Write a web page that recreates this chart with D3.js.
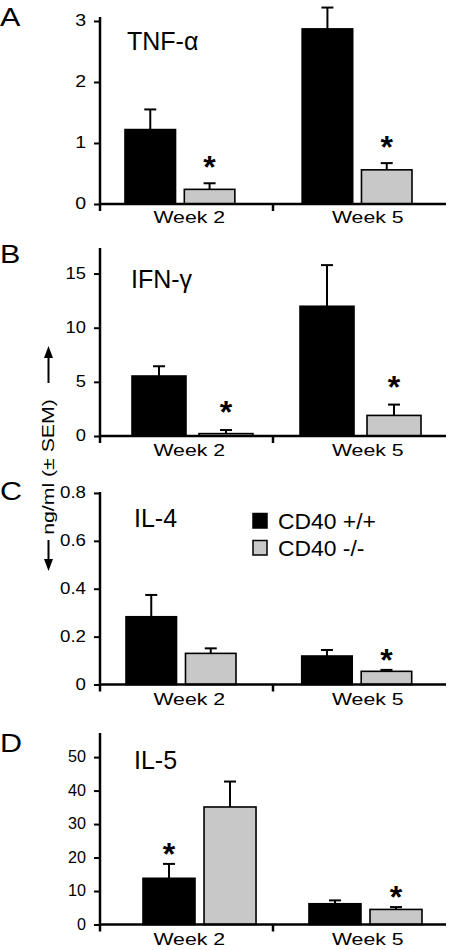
<!DOCTYPE html>
<html>
<head>
<meta charset="utf-8">
<script src="https://cdn.jsdelivr.net/npm/d3@7"></script>
<style>
  html, body { margin: 0; padding: 0; background: #fff; }
  svg { display: block; }
  text { font-family: "Liberation Sans", Arial, Helvetica, sans-serif; fill: #000; }
</style>
</head>
<body>
<svg id="chart" width="450" height="950"></svg>
<script>
// ---------- data ----------
const weeks = ["Week 2", "Week 5"];
const seriesNames = ["CD40 +/+", "CD40 -/-"];

const tnfWT = [1.22, 2.87];
const tnfWTsem = [0.33, 0.35];
const tnfKO = [0.24, 0.56];
const tnfKOsem = [0.10, 0.11];
const tnfTicks = [0, 1, 2, 3];
const tnfStars = ["Week 2|CD40 -/-", "Week 5|CD40 -/-"];

const ifnWT = [5.54, 11.98];
const ifnWTsem = [0.9, 3.8];
const ifnKO = [0.22, 1.9];
const ifnKOsem = [0.33, 1.0];
const ifnTicks = [0, 5, 10, 15];
const ifnStars = ["Week 2|CD40 -/-", "Week 5|CD40 -/-"];

const il4WT = [0.283, 0.119];
const il4WTsem = [0.091, 0.025];
const il4KO = [0.130, 0.055];
const il4KOsem = [0.021, 0.006];
const il4Ticks = [0, 0.2, 0.4, 0.6, 0.8];
const il4Stars = ["Week 5|CD40 -/-"];

const il5WT = [13.8, 6.2];
const il5WTsem = [4.3, 1.0];
const il5KO = [35.1, 4.5];
const il5KOsem = [7.6, 0.7];
const il5Ticks = [0, 10, 20, 30, 40, 50];
const il5Stars = ["Week 2|CD40 +/+", "Week 5|CD40 -/-"];

const panelLetters = ["A", "B", "C", "D"];
const panelTitles = ["TNF-\u03B1", "IFN-\u03B3", "IL-4", "IL-5"];
const yTitle = "ng/ml (\u00B1 SEM)";

// ---------- layout ----------
const panels = [
  { letter: panelLetters[0], title: panelTitles[0], wt: tnfWT, wtSem: tnfWTsem, ko: tnfKO, koSem: tnfKOsem,
    ticks: tnfTicks, stars: tnfStars, fmt: d => String(d),
    y0: 204, yTop: 17, yMax: 3.065, groupRange: [125, 412], gPad: 0.38, sPad: 0.148,
    starGap: 23, labelGap: 19, tickSx: 1.15, letterY: 26, titleY: 50, titleX: 127 },
  { letter: panelLetters[1], title: panelTitles[1], wt: ifnWT, wtSem: ifnWTsem, ko: ifnKO, koSem: ifnKOsem,
    ticks: ifnTicks, stars: ifnStars, fmt: d => String(d),
    y0: 436, yTop: 248, yMax: 17.36, groupRange: [132, 421], gPad: 0.28, sPad: 0.194,
    starGap: 25, labelGap: 20, tickSx: 1.08, letterY: 263, titleY: 288, titleX: 131 },
  { letter: panelLetters[2], title: panelTitles[2], wt: il4WT, wtSem: il4WTsem, ko: il4KO, koSem: il4KOsem,
    ticks: il4Ticks, stars: il4Stars, fmt: d => d === 0 ? "0" : d3.format(".1f")(d),
    y0: 684.5, yTop: 492, yMax: 0.804, groupRange: [126, 411.7], gPad: 0.374, sPad: 0.151,
    starGap: 17, labelGap: 20, tickSx: 1.1, letterY: 500, titleY: 527, titleX: 134 },
  { letter: panelLetters[3], title: panelTitles[3], wt: il5WT, wtSem: il5WTsem, ko: il5KO, koSem: il5KOsem,
    ticks: il5Ticks, stars: il5Stars, fmt: d => String(d),
    y0: 924.5, yTop: 733, yMax: 57.2, groupRange: [143, 422], gPad: 0.319, sPad: 0.148,
    starGap: 17, labelGap: 20, tickSx: 0.95, letterY: 752, titleY: 769, titleX: 134 }
];

const AXIS_X = 100, AXIS_END = 446;
const GRAY = "#c8c8c8";
const colors = d3.scaleOrdinal().domain(seriesNames).range(["#000000", GRAY]);

const svg = d3.select("#chart");

function sText(parent, x, y, str, size, sx, anchor) {
  return parent.append("text")
    .attr("transform", `translate(${x},${y}) scale(${sx},1)`)
    .attr("text-anchor", anchor || "start")
    .attr("font-size", size)
    .text(str);
}

const labelX = d3.scaleBand().domain(weeks).range([AXIS_X, 457]);

panels.forEach(p => {
  const g = svg.append("g");
  const y = d3.scaleLinear().domain([0, p.yMax]).range([p.y0, p.yTop]);
  const gx = d3.scaleBand().domain(weeks).range(p.groupRange).paddingInner(p.gPad).paddingOuter(0);
  const sx = d3.scaleBand().domain(seriesNames).range([0, gx.bandwidth()]).paddingInner(p.sPad).paddingOuter(0);

  const rows = [];
  weeks.forEach((w, i) => {
    rows.push({ week: w, series: seriesNames[0], v: p.wt[i], sem: p.wtSem[i] });
    rows.push({ week: w, series: seriesNames[1], v: p.ko[i], sem: p.koSem[i] });
  });

  // bars
  g.selectAll("rect.bar").data(rows).join("rect")
    .attr("class", "bar")
    .attr("x", d => gx(d.week) + sx(d.series))
    .attr("y", d => y(d.v))
    .attr("width", sx.bandwidth())
    .attr("height", d => p.y0 - y(d.v))
    .attr("fill", d => colors(d.series))
    .attr("stroke", "#000")
    .attr("stroke-width", 1.6);

  // error bars
  const cx = d => gx(d.week) + sx(d.series) + sx.bandwidth() / 2;
  g.selectAll("line.err").data(rows).join("line")
    .attr("class", "err")
    .attr("x1", cx).attr("x2", cx)
    .attr("y1", d => y(d.v)).attr("y2", d => y(d.v + d.sem))
    .attr("stroke", "#000").attr("stroke-width", 2);
  g.selectAll("line.cap").data(rows).join("line")
    .attr("class", "cap")
    .attr("x1", d => cx(d) - 6).attr("x2", d => cx(d) + 6)
    .attr("y1", d => y(d.v + d.sem)).attr("y2", d => y(d.v + d.sem))
    .attr("stroke", "#000").attr("stroke-width", 2);

  // significance stars
  const starRows = rows.filter(d => p.stars.includes(d.week + "|" + d.series));
  starRows.forEach(d => {
    g.append("text")
      .attr("x", cx(d))
      .attr("y", y(d.v + d.sem) - p.starGap + 18)
      .attr("text-anchor", "middle")
      .attr("font-size", 32)
      .attr("font-weight", "bold")
      .text("*");
  });

  // y axis ticks + labels
  const yAxis = d3.axisLeft(y).tickValues(p.ticks).tickFormat(p.fmt).tickSize(6).tickSizeOuter(0).tickPadding(8);
  const ax = g.append("g").attr("transform", `translate(${AXIS_X},0)`).call(yAxis);
  ax.select(".domain").remove();
  ax.selectAll(".tick line").attr("stroke", "#000").attr("stroke-width", 2);
  ax.selectAll(".tick text")
    .attr("font-size", 17)
    .attr("font-family", "Liberation Sans, Arial, sans-serif")
    .attr("fill", "#000")
    .attr("x", -14 / p.tickSx)
    .attr("dy", "0.27em")
    .attr("transform", `scale(${p.tickSx},1)`);

  // axis lines
  g.append("line").attr("x1", AXIS_X).attr("x2", AXIS_X).attr("y1", p.yTop).attr("y2", p.y0 + 7)
    .attr("stroke", "#000").attr("stroke-width", 2.5);
  g.append("line").attr("x1", AXIS_X).attr("x2", AXIS_END).attr("y1", p.y0).attr("y2", p.y0)
    .attr("stroke", "#000").attr("stroke-width", 2.5);
  const sepX = (AXIS_X + AXIS_END) / 2;
  g.append("line").attr("x1", sepX).attr("x2", sepX).attr("y1", p.y0).attr("y2", p.y0 + 7)
    .attr("stroke", "#000").attr("stroke-width", 2.5);

  // week labels
  weeks.forEach(w => {
    sText(g, labelX(w) + labelX.bandwidth() / 2, p.y0 + p.labelGap, w, 17, 1.25, "middle");
  });

  // panel letter and title
  sText(g, 0, p.letterY, p.letter, 25, 1.22, "start");
  g.append("text").attr("x", p.titleX).attr("y", p.titleY).attr("font-size", 25).text(p.title);
});

// legend (panel C)
const legend = svg.append("g");
seriesNames.forEach((s, i) => {
  legend.append("rect")
    .attr("x", 253).attr("y", 513.5 + i * 27)
    .attr("width", 14).attr("height", 14.5)
    .attr("fill", colors(s)).attr("stroke", "#000").attr("stroke-width", 1.5);
  sText(legend, 278, 529 + i * 27, s, 22, 1.04, "start");
});

// rotated y title with arrows
const yt = svg.append("g");
yt.append("text")
  .attr("transform", `translate(54,467) rotate(-90) scale(1.25,1)`)
  .attr("text-anchor", "middle")
  .attr("font-size", 17)
  .text(yTitle);
const ARX = 48.5;
yt.append("line").attr("x1", ARX).attr("x2", ARX).attr("y1", 383).attr("y2", 356)
  .attr("stroke", "#000").attr("stroke-width", 2);
yt.append("path").attr("d", `M${ARX},346 L${ARX - 4.5},358 L${ARX + 4.5},358 Z`).attr("fill", "#000");
yt.append("line").attr("x1", ARX).attr("x2", ARX).attr("y1", 540).attr("y2", 560)
  .attr("stroke", "#000").attr("stroke-width", 2);
yt.append("path").attr("d", `M${ARX},571 L${ARX - 4.5},559 L${ARX + 4.5},559 Z`).attr("fill", "#000");
</script>
</body>
</html>
